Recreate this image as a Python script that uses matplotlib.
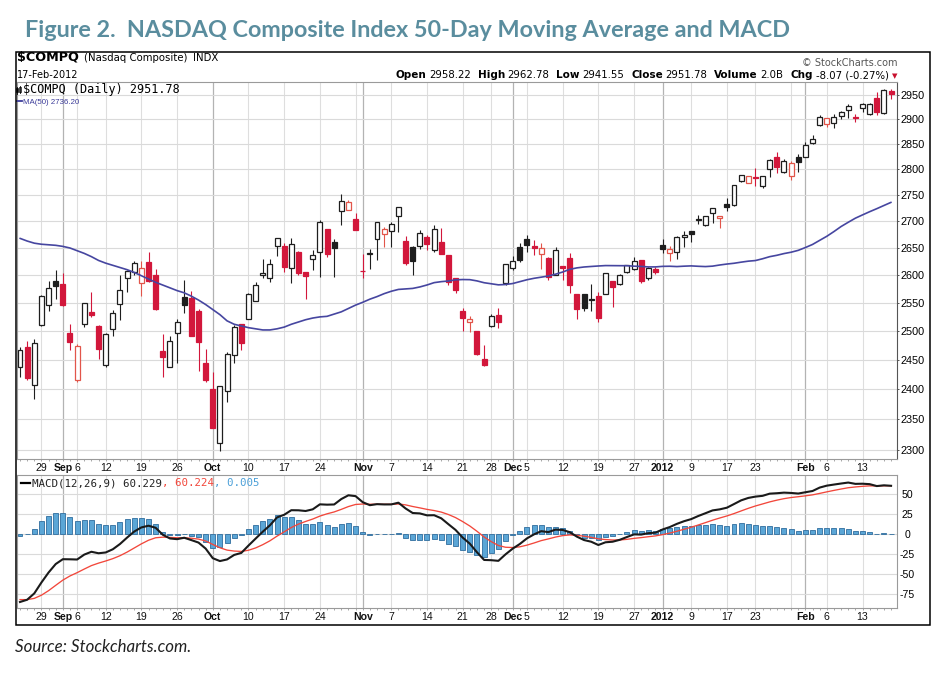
import numpy as np
import pandas as pd
import matplotlib
matplotlib.use("Agg")
import matplotlib.pyplot as plt
from matplotlib import transforms
from matplotlib.patches import Rectangle
from matplotlib.lines import Line2D
from matplotlib.ticker import FixedLocator, FixedFormatter, NullLocator, NullFormatter

# ---------------- data ----------------
start_date = '2011-08-24'
end_date = '2012-02-17'
holidays = ['2011-09-05', '2011-11-24', '2011-12-26', '2012-01-02', '2012-01-16']

opens = [2437.4, 2471.8, 2407.0, 2510.0, 2547.0, 2588.8, 2583.5, 2497.0, 2415.5, 2511.8,
         2533.5, 2509.0, 2441.4, 2503.0, 2548.0, 2594.0, 2606.0, 2585.0, 2624.4, 2600.0,
         2465.5, 2438.5, 2497.0, 2560.0, 2559.0, 2535.0, 2444.0, 2400.0, 2311.0, 2397.0,
         2459.0, 2512.0, 2522.0, 2554.0, 2601.0, 2594.0, 2654.0, 2653.0, 2614.0, 2643.0,
         2606.0, 2629.0, 2643.0, 2686.0, 2660.5, 2720.6, 2722.0, 2705.0, 2607.4, 2638.0,
         2667.0, 2677.0, 2682.0, 2710.0, 2663.0, 2652.5, 2653.7, 2670.0, 2646.0, 2660.5,
         2637.0, 2594.0, 2535.0, 2516.0, 2500.6, 2451.7, 2508.7, 2528.0, 2585.0, 2614.0,
         2651.0, 2667.0, 2654.0, 2638.0, 2632.0, 2601.0, 2616.7, 2631.0, 2565.0, 2565.0,
         2557.0, 2563.0, 2566.5, 2589.0, 2584.8, 2605.0, 2612.0, 2627.0, 2595.0, 2610.5,
         2655.6, 2640.0, 2642.0, 2670.0, 2682.0, 2704.0, 2692.6, 2716.0, 2706.0, 2734.0,
         2731.0, 2777.6, 2773.0, 2786.0, 2768.6, 2800.6, 2825.0, 2796.0, 2787.8, 2824.0,
         2825.0, 2852.0, 2888.0, 2890.0, 2892.0, 2907.0, 2919.0, 2905.0, 2924.0, 2912.0,
         2943.0, 2913.7, 2958.22]
highs = [2471.8, 2482.0, 2486.5, 2563.5, 2589.4, 2610.0, 2604.0, 2513.0, 2477.6, 2550.0,
         2568.8, 2510.0, 2496.0, 2538.0, 2600.0, 2609.0, 2626.0, 2626.0, 2642.7, 2612.0,
         2495.0, 2491.0, 2521.0, 2591.0, 2570.6, 2539.0, 2468.4, 2430.0, 2406.0, 2463.5,
         2510.0, 2513.0, 2567.0, 2588.0, 2629.0, 2629.0, 2668.3, 2659.0, 2668.0, 2645.0,
         2606.5, 2647.0, 2703.0, 2686.5, 2667.0, 2752.0, 2741.0, 2716.0, 2638.0, 2649.0,
         2699.0, 2689.0, 2699.0, 2728.0, 2673.0, 2653.0, 2684.5, 2674.0, 2694.0, 2688.0,
         2637.5, 2594.5, 2540.7, 2526.0, 2501.0, 2476.0, 2531.0, 2541.0, 2620.5, 2636.0,
         2658.6, 2674.0, 2665.0, 2660.0, 2632.5, 2652.5, 2617.0, 2640.0, 2565.5, 2565.5,
         2584.8, 2569.5, 2604.0, 2589.5, 2602.0, 2619.0, 2632.7, 2627.5, 2615.4, 2615.0,
         2666.0, 2654.0, 2672.0, 2681.5, 2682.5, 2712.5, 2710.8, 2725.0, 2711.0, 2744.0,
         2770.0, 2790.0, 2787.5, 2803.0, 2788.0, 2820.6, 2834.0, 2820.6, 2817.0, 2830.7,
         2855.5, 2869.0, 2909.0, 2903.0, 2912.0, 2917.0, 2931.0, 2912.0, 2934.0, 2934.0,
         2957.0, 2961.6, 2962.78]
lows = [2420.0, 2415.0, 2383.0, 2509.0, 2535.0, 2557.0, 2544.0, 2467.0, 2412.6, 2507.6,
        2525.0, 2451.0, 2437.0, 2492.0, 2519.4, 2569.0, 2600.0, 2563.0, 2588.0, 2537.0,
        2420.0, 2437.0, 2445.0, 2532.0, 2491.0, 2431.6, 2413.0, 2335.0, 2298.9, 2379.0,
        2445.0, 2467.0, 2521.0, 2553.0, 2594.0, 2588.0, 2636.0, 2606.0, 2586.5, 2601.0,
        2557.0, 2609.0, 2597.0, 2634.0, 2597.0, 2694.0, 2721.5, 2683.0, 2595.0, 2611.0,
        2628.0, 2652.0, 2651.0, 2680.0, 2618.0, 2600.0, 2649.0, 2646.0, 2643.0, 2638.0,
        2582.0, 2567.0, 2500.0, 2497.7, 2458.0, 2440.0, 2507.0, 2506.0, 2583.0, 2609.0,
        2625.0, 2643.0, 2637.0, 2612.0, 2591.0, 2600.0, 2591.0, 2567.0, 2522.0, 2536.0,
        2536.0, 2516.0, 2566.0, 2543.0, 2582.0, 2604.0, 2610.0, 2586.0, 2592.0, 2603.0,
        2641.0, 2626.0, 2629.0, 2652.5, 2661.0, 2694.5, 2691.0, 2697.0, 2687.6, 2720.0,
        2729.0, 2775.0, 2773.0, 2768.0, 2764.0, 2786.0, 2794.0, 2794.0, 2779.0, 2796.0,
        2824.0, 2850.0, 2886.0, 2885.0, 2883.0, 2900.0, 2903.4, 2894.0, 2916.0, 2910.0,
        2909.0, 2912.0, 2941.55]
closes = [2467.7, 2419.6, 2479.9, 2562.1, 2576.1, 2579.5, 2546.0, 2480.3, 2473.8, 2548.9,
          2529.1, 2468.0, 2495.1, 2532.2, 2572.6, 2607.1, 2622.3, 2612.8, 2590.2, 2538.2,
          2455.7, 2483.2, 2516.7, 2546.8, 2491.6, 2480.8, 2415.4, 2335.8, 2404.8, 2460.5,
          2506.8, 2479.4, 2566.1, 2583.0, 2604.7, 2620.2, 2667.9, 2614.9, 2657.4, 2604.0,
          2598.6, 2637.5, 2699.4, 2638.4, 2650.7, 2738.6, 2737.2, 2684.4, 2607.0, 2640.0,
          2698.0, 2686.2, 2695.3, 2727.5, 2621.7, 2625.2, 2678.8, 2657.2, 2686.2, 2639.6,
          2588.0, 2572.5, 2523.1, 2521.3, 2460.1, 2441.5, 2527.3, 2515.5, 2620.3, 2626.2,
          2626.9, 2655.8, 2649.6, 2649.2, 2596.4, 2646.9, 2612.3, 2582.0, 2539.3, 2541.0,
          2555.3, 2523.1, 2603.7, 2578.0, 2599.5, 2618.6, 2625.2, 2590.0, 2613.7, 2605.2,
          2648.7, 2648.4, 2669.9, 2674.2, 2676.6, 2702.5, 2710.8, 2724.7, 2710.7, 2728.1,
          2769.7, 2788.3, 2786.7, 2784.2, 2786.6, 2818.3, 2805.3, 2816.6, 2811.9, 2813.8,
          2848.3, 2859.7, 2905.7, 2902.0, 2904.1, 2915.9, 2927.2, 2903.9, 2931.4, 2931.8,
          2915.8, 2959.9, 2951.78]

# 50-day MA for the first 49 sessions (earlier closes not shown)
ma50_early = [2668, 2663, 2659, 2657, 2656, 2655, 2653, 2650, 2645, 2640,
              2634, 2627, 2622, 2618, 2614, 2610, 2605, 2599, 2593, 2587,
              2582, 2577, 2572, 2568, 2562, 2555, 2547, 2538, 2529, 2518,
              2512, 2509, 2506, 2504, 2502, 2502, 2504, 2507, 2512, 2516,
              2520, 2523, 2525, 2526, 2530, 2534, 2540, 2546, 2551]

# EMA states on the session before the first shown (fitted to the MACD panel start)
ema12_seed = 2462.8
ema26_seed = 2555.0
signal_seed = -81.25

price_ticks = [2300, 2350, 2400, 2450, 2500, 2550, 2600, 2650, 2700, 2750, 2800, 2850, 2900, 2950]
macd_ticks = [-75, -50, -25, 0, 25, 50]

xtick_dates = ['2011-08-29', '2011-09-01', '2011-09-06', '2011-09-12', '2011-09-19', '2011-09-26',
               '2011-10-03', '2011-10-10', '2011-10-17', '2011-10-24', '2011-11-01', '2011-11-07',
               '2011-11-14', '2011-11-21', '2011-11-28', '2011-12-01', '2011-12-05', '2011-12-12',
               '2011-12-19', '2011-12-27', '2012-01-03', '2012-01-09', '2012-01-17', '2012-01-23',
               '2012-02-01', '2012-02-06', '2012-02-13']
xtick_labels = ['29', 'Sep', '6', '12', '19', '26', 'Oct', '10', '17', '24', 'Nov', '7',
                '14', '21', '28', 'Dec', '5', '12', '19', '27', '2012', '9', '17', '23',
                'Feb', '6', '13']
month_labels = ['Sep', 'Oct', 'Nov', 'Dec', '2012', 'Feb']

title = 'Figure 2.  NASDAQ Composite Index 50-Day Moving Average and MACD'
source = 'Source: Stockcharts.com.'

# ---------------- setup ----------------
plt.rcParams['font.family'] = ['Liberation Sans', 'DejaVu Sans']

W, H = 947, 676
fig = plt.figure(figsize=(W / 100, H / 100), dpi=100)
fig.patch.set_facecolor('white')
renderer = fig.canvas.get_renderer()


def fx(x):
    return x / W


def fy(y):
    return 1 - y / H


def rect(x0, y0, x1, y1):
    return [x0 / W, 1 - y1 / H, (x1 - x0) / W, (y1 - y0) / H]


def px_line(x0, y0, x1, y1, **kw):
    fig.add_artist(Line2D([fx(x0), fx(x1)], [fy(y0), fy(y1)], transform=fig.transFigure, **kw))


def px_rect(x0, y0, x1, y1, **kw):
    fig.add_artist(Rectangle((fx(x0), fy(y1)), (x1 - x0) / W, (y1 - y0) / H,
                             transform=fig.transFigure, **kw))


def run(x, y, pieces, align='left', target=None):
    objs = []
    for s, kw, gap in pieces:
        t = fig.text(0, fy(y), s, ha='left', va='baseline', **kw)
        objs.append((t, gap))

    def widths():
        return [t.get_window_extent(renderer=renderer).width for t, _ in objs]

    gaps = sum(g for _, g in objs[:-1])
    if target:
        f = (target - gaps) / sum(widths())
        for t, _ in objs:
            t.set_fontsize(t.get_fontsize() * f)
    w = widths()
    tot = sum(w) + gaps
    xx = x if align == 'left' else x - tot
    for (t, g), wi in zip(objs, w):
        t.set_x(fx(xx))
        xx += wi + g
    return objs


dates = pd.bdate_range(start_date, end_date)
dates = dates[~dates.isin(pd.to_datetime(holidays))]
o = np.array(opens)
hi = np.array(highs)
lo = np.array(lows)
c = np.array(closes)
n = len(c)
idx = np.arange(n)

# moving average
ma50 = np.empty(n)
ma50[:49] = ma50_early
for i in range(49, n):
    ma50[i] = c[i - 49:i + 1].mean()


def ema(x, seed, span):
    a = 2.0 / (span + 1)
    out = np.empty(len(x))
    e = seed
    for k, v in enumerate(x):
        e = e + a * (v - e)
        out[k] = e
    return out


macd = ema(c, ema12_seed, 12) - ema(c, ema26_seed, 26)
signal = ema(macd, signal_seed, 9)
hist = macd - signal

# ---------------- axes ----------------
ax = fig.add_axes(rect(17, 82, 897, 459))
axm = fig.add_axes(rect(17, 475, 897, 608))

x_lo = (17 - 20) / 7.14
x_hi = (897 - 20) / 7.14

week_starts = [i for i in range(1, n) if dates[i].isocalendar().week != dates[i - 1].isocalendar().week]
month_starts = [i for i in range(1, n) if dates[i].month != dates[i - 1].month]

for a in (ax, axm):
    a.set_xlim(x_lo, x_hi)
    for i in week_starts:
        if i not in month_starts:
            a.axvline(i, color='#dedede', lw=0.8, zorder=0)
    for i in month_starts:
        a.axvline(i, color='#b3b3b3', lw=0.9, zorder=0)
    a.set_xticks([])
    a.set_xticks(idx, minor=True)
    a.xaxis.set_minor_formatter(NullFormatter())
    a.tick_params(axis='x', which='minor', length=1.3, width=0.6, color='#999999', direction='out')
    for s in a.spines.values():
        s.set_color('#9a9a9a')
        s.set_linewidth(0.8)

# price panel
ax.set_yscale('log')
ax.set_ylim(2285.5, 2977.2)
for p in price_ticks:
    ax.axhline(p, color='#dadada', lw=0.8, zorder=0)
ax.yaxis.set_major_locator(FixedLocator(price_ticks))
ax.yaxis.set_major_formatter(FixedFormatter([str(p) for p in price_ticks]))
ax.yaxis.set_minor_locator(NullLocator())
ax.yaxis.set_minor_formatter(NullFormatter())
ax.yaxis.tick_right()
ax.tick_params(axis='y', which='major', length=1.6, width=0.7, color='#555555',
               pad=1.2, labelsize=7.8)
ax.spines['right'].set_color('#555555')

BLACK = '#1e1e1e'
RED = '#d2173b'
RED_HOLLOW = '#e2554a'
up_day = np.r_[True, c[1:] >= c[:-1]]
hollow = c >= o
edge_cols = [BLACK if up_day[i] else (RED_HOLLOW if hollow[i] else RED) for i in range(n)]
face_cols = ['white' if hollow[i] else edge_cols[i] for i in range(n)]
bottoms = np.minimum(o, c)
heights = np.maximum(np.abs(c - o), 0.3)

ax.vlines(idx, lo, hi, colors=edge_cols, lw=0.8, zorder=2)
ax.bar(idx, heights, bottom=bottoms, width=0.7, color=face_cols, edgecolor=edge_cols,
       linewidth=0.9, zorder=3)
ax.plot(idx, ma50, color='#4646a0', lw=1.2, zorder=4, solid_capstyle='round')

# MACD panel
axm.set_ylim(-92.5, 73.7)
for v in macd_ticks:
    axm.axhline(v, color='#dadada', lw=0.8, zorder=0)
axm.yaxis.set_major_locator(FixedLocator(macd_ticks))
axm.yaxis.set_major_formatter(FixedFormatter([str(v) for v in macd_ticks]))
axm.yaxis.tick_right()
axm.tick_params(axis='y', which='major', length=0, pad=7.3, labelsize=7.6)
for t in axm.get_yticklabels():
    t.set_ha('center')
axm.bar(idx, hist, width=0.7, color='#5ba6d6', edgecolor='#2f6d9e', linewidth=0.6, zorder=2)
axm.plot(idx, signal, color='#f2473b', lw=0.95, zorder=3)
axm.plot(idx, macd, color='#1a1a1a', lw=1.5, zorder=4)

# date labels
for a, ypx in ((ax, 468.3), (axm, 617.0)):
    tr = transforms.blended_transform_factory(a.transData, fig.transFigure)
    for d, lab in zip(xtick_dates, xtick_labels):
        pos = dates.get_loc(pd.Timestamp(d))
        a.text(pos, fy(ypx), lab, transform=tr, ha='center', va='center', fontsize=7.6,
               fontweight='bold' if lab in month_labels else 'normal', clip_on=False,
               color='#111111')

# ---------------- frame & texts ----------------
px_rect(15.5, 51.7, 930, 625, fill=False, edgecolor='black', lw=1.1, zorder=10)

TEAL = '#5a8d9e'
run(25, 37, [(title, dict(fontfamily='Lato', fontweight='bold', fontsize=20, color=TEAL), 0)],
    target=767)
run(15, 652.3, [(source, dict(fontfamily='Lato', style='italic', fontsize=12, color='#222222'), 0)],
    target=175)

DJ = dict(fontfamily='DejaVu Sans')
run(17, 61, [('$COMPQ', dict(DJ, fontweight='bold', fontsize=9.2), 5),
             ('(Nasdaq Composite)', dict(DJ, fontsize=7.3), 6),
             ('INDX', dict(DJ, fontsize=7.3), 0)])
run(17, 78.3, [('17-Feb-2012', dict(DJ, fontsize=7), 0)])
run(897, 65.5, [('\u00a9 StockCharts.com', dict(DJ, fontsize=7.0, color='#555555'), 0)], align='right')

B = dict(DJ, fontweight='bold', fontsize=7.2)
R = dict(DJ, fontsize=7.0)
run(897, 78.5, [('Open', B, 2.5), ('2958.22', R, 7), ('High', B, 2.5), ('2962.78', R, 7),
                ('Low', B, 2.5), ('2941.55', R, 7), ('Close', B, 2.5), ('2951.78', R, 7),
                ('Volume', B, 2.5), ('2.0B', R, 7), ('Chg', B, 2.5), ('-8.07 (-0.27%)', R, 3),
                ('\u25bc', dict(DJ, fontsize=5, color='#c8102e'), 0)],
    align='right', target=499)

# price legend
px_line(17.2, 86.5, 17.2, 93.5, color='black', lw=0.6)
px_rect(16.4, 88.0, 18.0, 92.0, facecolor='black', edgecolor='black', lw=0.4)
px_line(20.0, 86.0, 20.0, 93.0, color='black', lw=0.6)
px_rect(19.2, 87.5, 20.8, 91.5, facecolor='white', edgecolor='black', lw=0.5)
run(23, 93.0, [('$COMPQ (Daily) 2951.78', dict(fontfamily='DejaVu Sans Mono', fontsize=8.3), 0)],
    target=155)
px_line(16.5, 100.8, 21.5, 100.8, color='#3c3c9a', lw=1.3)
run(23, 103.8, [('MA(50) 2736.20', dict(fontfamily='Liberation Sans', fontsize=5.8, color='#3c3c9a'), 0)],
    target=56)

# MACD legend
px_line(20.5, 482.8, 30, 482.8, color='black', lw=1.6)
MONO = dict(fontfamily='DejaVu Sans Mono', fontsize=7.7)
run(31.7, 486.3, [('MACD(12,26,9) 60.229', dict(MONO, color='#222222'), 0),
                  (', 60.224', dict(MONO, color='#f2473b'), 0),
                  (', 0.005', dict(MONO, color='#4a9fd8'), 0)],
    target=225)

fig.savefig('out.png', dpi=100, facecolor='white')
